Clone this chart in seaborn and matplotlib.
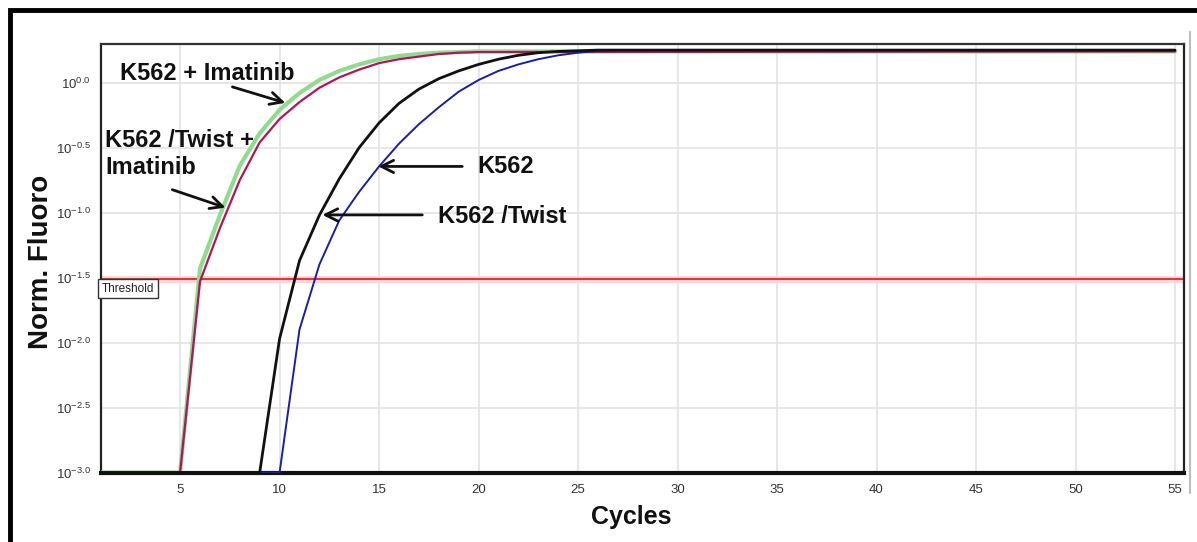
import numpy as np
import pandas as pd
import matplotlib
matplotlib.use("Agg")
import matplotlib.pyplot as plt
from matplotlib.patches import Rectangle
from matplotlib.lines import Line2D
from matplotlib.ticker import NullLocator, FixedLocator
import seaborn as sns

# ---------------- data (log10 of normalised fluorescence) ----
cycles_imatinib = [1, 5, 6, 7, 8, 9, 10, 11, 12, 13, 14, 15, 16, 17, 18, 19, 20, 55]
log_k562_imatinib = [-3.0, -3.0, -1.43, -1.02, -0.64, -0.39, -0.21, -0.08, 0.02, 0.09,
                     0.14, 0.18, 0.205, 0.22, 0.23, 0.235, 0.24, 0.24]
log_twist_imatinib = [-3.0, -3.0, -1.53, -1.12, -0.75, -0.46, -0.28, -0.15, -0.04, 0.04,
                      0.10, 0.15, 0.18, 0.20, 0.22, 0.23, 0.235, 0.24]

cycles_twist = [1, 9, 10, 11, 12, 13, 14, 15, 16, 17, 18, 19, 20, 21, 22, 23, 24, 25, 26, 55]
log_k562_twist = [-3.0, -3.0, -1.97, -1.37, -1.02, -0.74, -0.50, -0.31, -0.16, -0.05,
                  0.03, 0.09, 0.14, 0.18, 0.21, 0.23, 0.24, 0.245, 0.25, 0.25]

cycles_k562 = [1, 10, 11, 12, 13, 14, 15, 16, 17, 18, 19, 20, 21, 22, 23, 24, 25, 26, 27, 55]
log_k562 = [-3.0, -3.0, -1.90, -1.40, -1.06, -0.84, -0.645, -0.47, -0.32, -0.19, -0.07,
            0.02, 0.09, 0.14, 0.18, 0.21, 0.23, 0.245, 0.25, 0.25]

series_names = ["K562 + Imatinib", "K562 /Twist + Imatinib", "K562", "K562 /Twist"]
series_colors = ["#8fdc8f", "#b3125f", "#1c1ca8", "#111111"]
series_widths = [3.0, 1.6, 1.4, 2.0]

y_exponents = [-3.0, -2.5, -2.0, -1.5, -1.0, -0.5, 0.0]
y_tick_labels = [r"$10^{-3.0}$", r"$10^{-2.5}$", r"$10^{-2.0}$", r"$10^{-1.5}$",
                 r"$10^{-1.0}$", r"$10^{-0.5}$", r"$10^{0.0}$"]
x_ticks = [5, 10, 15, 20, 25, 30, 35, 40, 45, 50, 55]
threshold_log = -1.51

# ---------------- style ----------------
sns.set_theme(style="white")
plt.rcParams["font.family"] = ["Liberation Sans", "DejaVu Sans"]
plt.rcParams["mathtext.fontset"] = "custom"
plt.rcParams["mathtext.rm"] = "Liberation Sans"
plt.rcParams["mathtext.it"] = "Liberation Sans:italic"
plt.rcParams["mathtext.bf"] = "Liberation Sans:bold"

W, H = 1197, 542
fig = plt.figure(figsize=(W / 100, H / 100), dpi=100)
fig.patch.set_facecolor("white")
ax = fig.add_axes([100.5 / W, 1 - 472.5 / H, (1184 - 100.5) / W, (472.5 - 44) / H])

frames = [
    pd.DataFrame({"Cycle": cycles_imatinib, "Fluoro": np.power(10.0, log_k562_imatinib),
                  "Sample": series_names[0]}),
    pd.DataFrame({"Cycle": cycles_imatinib, "Fluoro": np.power(10.0, log_twist_imatinib),
                  "Sample": series_names[1]}),
    pd.DataFrame({"Cycle": cycles_k562, "Fluoro": np.power(10.0, log_k562),
                  "Sample": series_names[2]}),
    pd.DataFrame({"Cycle": cycles_twist, "Fluoro": np.power(10.0, log_k562_twist),
                  "Sample": series_names[3]}),
]

for df, col, lw in zip(frames, series_colors, series_widths):
    sns.lineplot(data=df, x="Cycle", y="Fluoro", color=col, linewidth=lw,
                 ax=ax, legend=False, zorder=3, sort=False)

ax.set_yscale("log")
ax.set_xlim(1, 55.45)
ax.set_ylim(10 ** -3.0, 10 ** 0.297)
ax.yaxis.set_major_locator(FixedLocator([10 ** e for e in y_exponents]))
ax.yaxis.set_minor_locator(NullLocator())
ax.set_yticklabels(y_tick_labels)
ax.set_xticks(x_ticks)
ax.set_xticklabels([str(t) for t in x_ticks])

ax.grid(True, which="major", color="#e3e3e3", linewidth=1.2, zorder=0)
ax.set_axisbelow(True)

for side, lw, col in [("left", 1.6, "#222222"), ("top", 1.6, "#333333"),
                      ("right", 1.6, "#222222"), ("bottom", 3.0, "#111111")]:
    ax.spines[side].set_visible(True)
    ax.spines[side].set_linewidth(lw)
    ax.spines[side].set_color(col)

ax.tick_params(axis="both", which="major", direction="out", length=5, width=1,
               color="#9a9a9a", labelsize=9.5, labelcolor="#333333", pad=3)
ax.tick_params(axis="y", pad=2)

ax.set_xlabel("")
ax.set_ylabel("")

# threshold
thr = 10 ** threshold_log
ax.axhline(thr, color="#ffd6d6", linewidth=5, zorder=2)
ax.axhline(thr, color="#e02424", linewidth=1.3, zorder=2.5)
ax.text(1.07, 10 ** (threshold_log - 0.03), "Threshold", ha="left", va="top",
        fontsize=8.5, color="#222222", family=["Liberation Sans Narrow", "Liberation Sans"],
        bbox=dict(boxstyle="square,pad=0.3", fc="white", ec="#333333", lw=1.0), zorder=5)

# annotations
txt_kw = dict(fontsize=17, fontweight="bold", color="#111111")
arr = dict(arrowstyle="->", lw=2.0, color="#111111", mutation_scale=22, shrinkA=0, shrinkB=0)

ax.text(2.0, 10 ** 0.067, "K562 + Imatinib", ha="left", va="center", **txt_kw)
ax.annotate("", xy=(10.29, 10 ** -0.156), xytext=(7.63, 10 ** -0.033), arrowprops=arr)

ax.text(1.25, 10 ** -0.55, "K562 /Twist +\nImatinib", ha="left", va="center",
        linespacing=1.25, **txt_kw)
ax.annotate("", xy=(7.28, 10 ** -0.962), xytext=(4.61, 10 ** -0.824), arrowprops=arr)

ax.text(19.95, 10 ** -0.645, "K562", ha="left", va="center", **txt_kw)
ax.annotate("", xy=(14.96, 10 ** -0.645), xytext=(19.18, 10 ** -0.645), arrowprops=arr)

ax.text(17.95, 10 ** -1.03, "K562 /Twist", ha="left", va="center", **txt_kw)
ax.annotate("", xy=(12.15, 10 ** -1.018), xytext=(17.17, 10 ** -1.018), arrowprops=arr)

# axis titles
fig.text(41 / W, 1 - 262 / H, "Norm. Fluoro", rotation=90, ha="center", va="center",
         fontsize=20, fontweight="bold", color="#111111")
fig.text(631 / W, 1 - 517 / H, "Cycles", ha="center", va="center",
         fontsize=18, fontweight="bold", color="#111111")

# outer panel frame and side bar
fig.patches.append(Rectangle((10 / W, -0.1), 1.2, (1 - 10 / H) + 0.1, transform=fig.transFigure,
                             fill=False, lw=3.5, ec="#000000", zorder=10))
fig.lines.append(Line2D([1190 / W, 1190 / W], [1 - 32 / H, 1 - 493 / H],
                        transform=fig.transFigure, color="#bdbdbd", lw=1.5))

fig.savefig("out.png", dpi=100, facecolor="white")
